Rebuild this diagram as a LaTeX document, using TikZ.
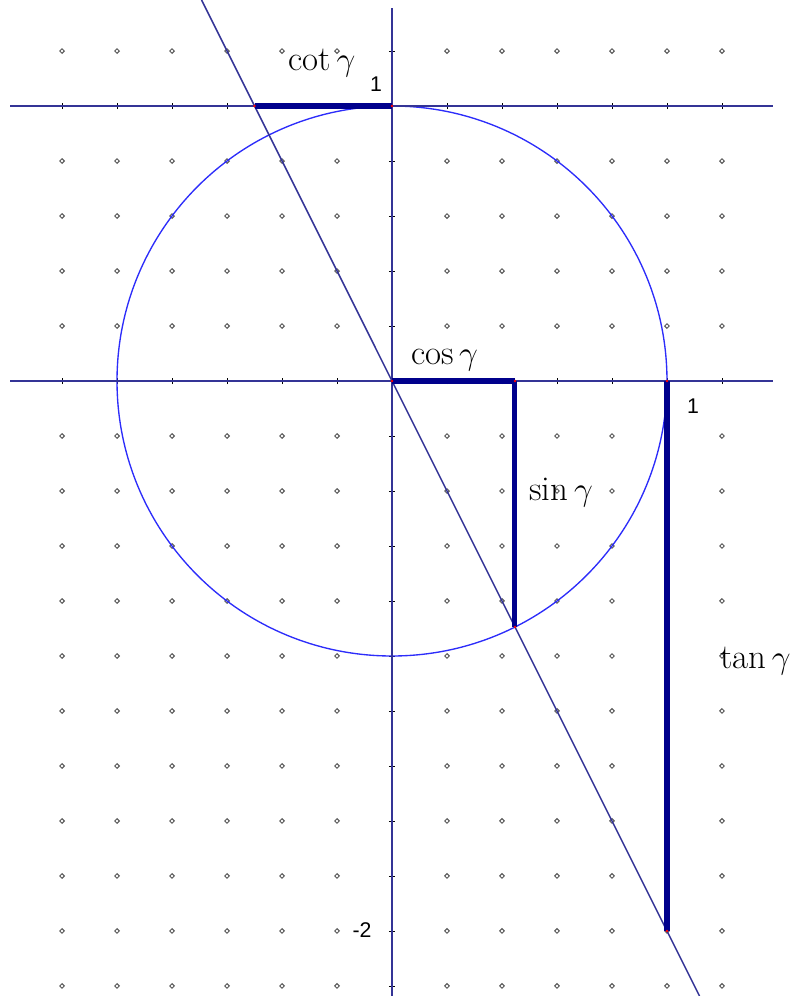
\documentclass[tikz,border=0pt]{standalone}
\usepackage{fontspec}
\usetikzlibrary{shapes.geometric}
\newfontfamily\numfont{Liberation Sans}
\definecolor{axisblue}{RGB}{52,52,150}
\definecolor{circblue}{RGB}{45,45,250}
\definecolor{segblue}{RGB}{0,0,140}
\definecolor{dotgray}{RGB}{85,85,85}
\tikzset{
  axisline/.style={axisblue, line width=1pt},
  trigseg/.style={segblue, line width=2.6pt},
  trig/.style={font=\fontsize{18}{21}\selectfont, inner sep=0pt},
  numlbl/.style={font=\numfont\fontsize{11}{13}\selectfont, inner sep=0pt},
  gdot/.style={draw=dotgray, line width=0.5pt, shape=diamond, inner sep=0pt, minimum size=2.6pt},
}
\begin{document}
\begin{tikzpicture}[x=5cm,y=5cm]
  \useasboundingbox (-1.4255,-2.2364) rectangle (1.4691,1.3855);
  % 网格点（轴上除外）
  \foreach \i in {-6,...,6} {
    \foreach \j in {-11,...,6} {
      \ifnum\i=0\else\ifnum\j=0\else\ifnum\j=5\else
        \node[gdot] (d\i/\j) at (\i*0.2,\j*0.2) {};
      \fi\fi\fi
    }
  }
  % 坐标轴上的刻度
  \foreach \i in {-6,...,6} {
    \draw[line width=0.5pt] (\i*0.2,0) ++(0,-1.6pt) -- ++(0,3.2pt);
    \draw[line width=0.5pt] (\i*0.2,1) ++(0,-1.6pt) -- ++(0,3.2pt);
  }
  \foreach \j in {-11,...,6} {
    \draw[line width=0.5pt] (0,\j*0.2) ++(-1.6pt,0) -- ++(3.2pt,0);
  }
  % 单位圆
  \coordinate (O) at (0,0);
  \draw[circblue, line width=0.7pt] (O) circle (1);
  % 坐标轴与切线 y=1
  \coordinate (xl) at (-1.389,0);
  \coordinate (xr) at (1.387,0);
  \coordinate (tl) at (-1.389,1);
  \coordinate (tr) at (1.387,1);
  \coordinate (yt) at (0,1.356);
  \coordinate (yb) at (0,-2.2364);
  \draw[axisline] (xl) -- (xr);
  \draw[axisline] (tl) -- (tr);
  \draw[axisline] (yt) -- (yb);
  % 终边所在直线 y=-2x
  \coordinate (L1) at (-0.6927,1.3855);
  \coordinate (L2) at (1.1182,-2.2364);
  \draw[axisblue, line width=0.8pt] (L1) -- (L2);
  % 三角函数线
  \coordinate (C) at (0.4472,0);
  \coordinate (P) at (0.4472,-0.8944);
  \coordinate (A) at (1,0);
  \coordinate (T) at (1,-2);
  \coordinate (B) at (0,1);
  \coordinate (K) at (-0.5,1);
  \draw[trigseg] (O) -- (C);
  \draw[trigseg] (C) -- (P);
  \draw[trigseg] (A) -- (T);
  \draw[trigseg] (K) -- (B);
  % 交点（红色小点）
  \foreach \p in {O,C,P,A,T,B,K} {
    \fill[red] (\p) circle (0.7pt);
  }
  % 标注
  \node[trig] (cotl) at (-0.2545,1.156) {$\cot\gamma$};
  \node[trig] (cosl) at (0.191,0.076) {$\cos\gamma$};
  \node[trig] (sinl) at (0.615,-0.407) {$\sin\gamma$};
  \node[trig] (tanl) at (1.322,-1.018) {$\tan\gamma$};
  \node[numlbl] (one1) at (-0.058,1.08) {1};
  \node[numlbl] (one2) at (1.095,-0.091) {1};
  \node[numlbl] (mtwo) at (-0.109,-1.996) {-2};
\end{tikzpicture}
\end{document}
